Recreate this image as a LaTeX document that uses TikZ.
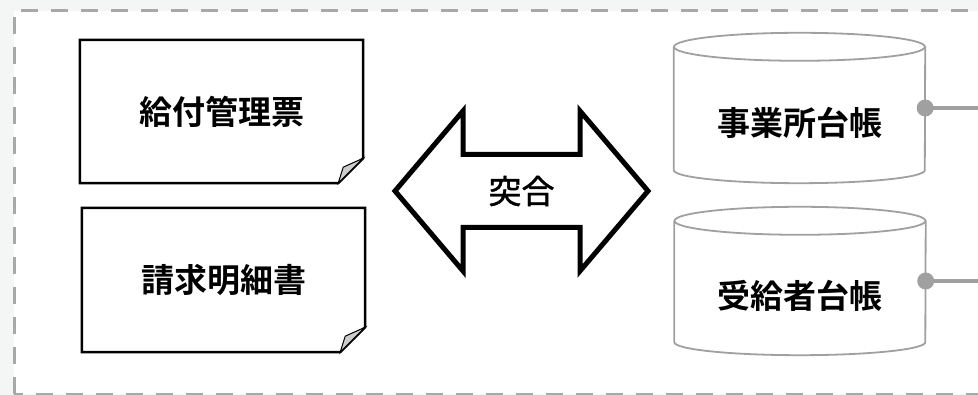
\documentclass[tikz,border=0pt]{standalone}
\usepackage{fontspec}
\usepackage{tikz}
\usetikzlibrary{calc}
\newfontfamily\jpfont[FakeBold=1.2]{Noto Sans CJK JP}
\newfontfamily\jpbold{Noto Sans CJK JP Bold}
\definecolor{pagegray}{HTML}{F4F6F5}
\definecolor{framegray}{HTML}{A8A8A8}
\definecolor{dbgray}{HTML}{A0A0A0}
\definecolor{foldgray}{HTML}{CCCCCC}
\tikzset{
  docbox/.style={minimum width=283, minimum height=143, inner sep=0pt, font=\jpbold\fontsize{33}{33}\selectfont},
  dbbox/.style={minimum width=251, minimum height=150, inner sep=0pt},
  dbtext/.style={inner sep=0pt, font=\jpbold\fontsize{33}{33}\selectfont},
  docline/.style={draw=black, line width=2.5, line join=miter},
  dbline/.style={draw=dbgray, line width=1.8},
  link/.style={draw=dbgray, line width=4.5},
}
\newcommand{\docshape}[1]{%
  \draw[docline] (#1.north west) -- (#1.north east) -- ([yshift=25]#1.south east)
    -- ([xshift=-25]#1.south east) -- (#1.south west) -- cycle;
  \draw[line width=1, fill=foldgray] ([yshift=25]#1.south east) -- ([xshift=-20,yshift=16]#1.south east)
    -- ([xshift=-25]#1.south east) -- cycle;}
\newcommand{\dbshape}[1]{%
  \draw[dbline] ([yshift=-14]#1.north) ellipse[x radius=125.5, y radius=14];
  \draw[dbline] ([yshift=-14]#1.north west) -- ([yshift=13]#1.south west)
    arc[start angle=180, end angle=360, x radius=125.5, y radius=13] -- ([yshift=-14]#1.north east);}

\begin{document}
\begin{tikzpicture}[x=1pt,y=1pt]
\useasboundingbox (0,0) rectangle (978,395);
\fill[pagegray] (0,0) rectangle (978,395);
\draw[framegray, fill=white, line width=3, dash pattern=on 17 off 13] (14,0.5) rectangle (1000,384);

% documents
\node[docbox] (kyufu) at (221.5,283.5) {給付管理票};
\node[docbox, minimum height=144] (seikyu) at (223.5,115) {請求明細書};
\docshape{kyufu}
\docshape{seikyu}

% matching
\node[font=\jpfont\fontsize{33}{33}\selectfont, inner sep=0pt] (match) at (521.5,204) {突合};
\draw[line width=5, line join=miter] ([xshift=-126.5]match.center) -- ++(68,80) -- ++(0,-43.5) -- ++(117,0)
  -- ++(0,43.5) -- ++(68,-80) -- ++(-68,-80) -- ++(0,43.5) -- ++(-117,0) -- ++(0,-43.5) -- cycle;

% ledgers
\node[dbbox] (jigyosho) at (799.5,287) {};
\node[dbbox, minimum height=148] (jukyusha) at (800,114) {};
\dbshape{jigyosho}
\dbshape{jukyusha}
\node[dbtext] (jigyoshot) at ([yshift=-15]jigyosho.center) {事業所台帳};
\node[dbtext] (jukyushat) at ([yshift=-15]jukyusha.center) {受給者台帳};

\coordinate (jigyoshoout) at (990,287);
\coordinate (jukyushaout) at (990,114);
\draw[link] (jigyosho.east) -- (jigyoshoout);
\draw[link] (jukyusha.east) -- (jukyushaout);
\fill[dbgray] (jigyosho.east) circle[radius=8.5];
\fill[dbgray] (jukyusha.east) circle[radius=8.5];
\end{tikzpicture}
\end{document}
